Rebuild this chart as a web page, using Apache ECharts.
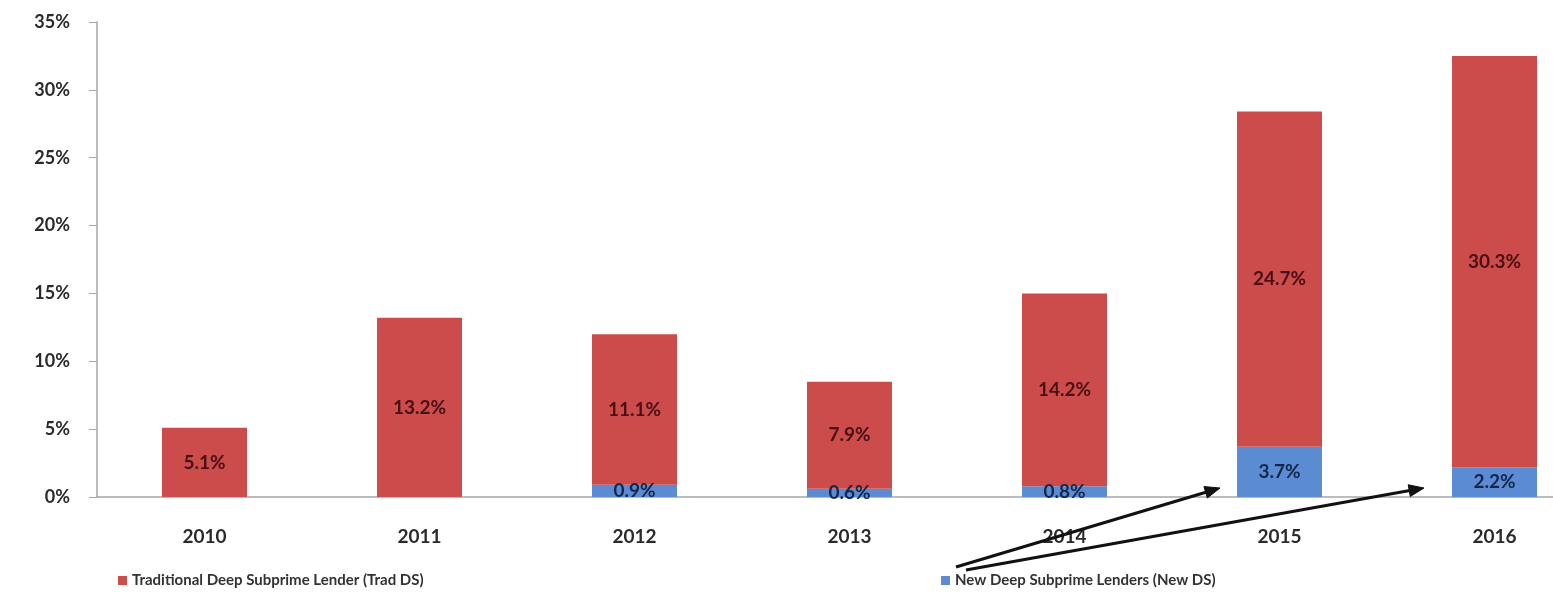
<!DOCTYPE html>
<html>
<head>
<meta charset="utf-8">
<script src="https://cdn.jsdelivr.net/npm/echarts@6/dist/echarts.min.js"></script>
<style>html,body{margin:0;padding:0;background:#fff;}#c{width:1553px;height:603px;}</style>
</head>
<body>
<div id="c"></div>
<script>
var categories = ['2010','2011','2012','2013','2014','2015','2016'];
var tradDS = [5.1, 13.2, 11.1, 7.9, 14.2, 24.7, 30.3];
var newDS = [0, 0, 0.9, 0.6, 0.8, 3.7, 2.2];
var yTicks = [0, 5, 10, 15, 20, 25, 30, 35];
var tradName = 'Traditional Deep Subprime Lender (Trad DS)';
var newName = 'New Deep Subprime Lenders (New DS)';

var FONT = 'Lato';
function arrow(x1, y1, x2, y2) {
  var dx = x2 - x1, dy = y2 - y1, len = Math.sqrt(dx*dx + dy*dy);
  var ux = dx/len, uy = dy/len, px = -uy, py = ux;
  var hl = 15, hw = 6;
  var bx = x2 - ux*hl, by = y2 - uy*hl;
  return [
    {type: 'line', silent: true, z: 100, shape: {x1: x1, y1: y1, x2: bx + ux*2, y2: by + uy*2}, style: {stroke: '#111', lineWidth: 3}},
    {type: 'polygon', silent: true, z: 101, shape: {points: [[x2, y2], [bx + px*hw, by + py*hw], [bx - px*hw, by - py*hw]]}, style: {fill: '#111', stroke: '#111', lineWidth: 1}}
  ];
}

var chart = echarts.init(document.getElementById('c'));
var labelFmt = function (p) { return p.value ? p.value.toFixed(1) + '%' : ''; };
chart.setOption({
  animation: false,
  textStyle: {fontFamily: FONT},
  grid: {left: 97, top: 22, right: -49, bottom: 106, containLabel: false, outerBoundsMode: 'none'},
  legend: [
    {data: [tradName], left: 113, top: 568, icon: 'rect', itemWidth: 9, itemHeight: 9, itemGap: 6,
     textStyle: {fontFamily: FONT, fontSize: 15, fontWeight: 'bold', color: '#333'}},
    {data: [newName], left: 936, top: 568, icon: 'rect', itemWidth: 9, itemHeight: 9, itemGap: 6,
     textStyle: {fontFamily: FONT, fontSize: 15, fontWeight: 'bold', color: '#333'}}
  ],
  xAxis: {
    type: 'category', data: categories,
    axisLine: {lineStyle: {color: '#a6a6a6', width: 1.5}},
    axisTick: {length: 8, lineStyle: {color: '#a6a6a6'}},
    axisLabel: {margin: 30, fontSize: 19, fontWeight: 'bold', color: '#2a2a2a', fontFamily: FONT}
  },
  yAxis: {
    type: 'value', min: 0, max: 35, interval: 5,
    splitLine: {show: false},
    axisLine: {show: true, lineStyle: {color: '#a6a6a6', width: 1.5}},
    axisTick: {show: true, length: 8, lineStyle: {color: '#a6a6a6'}},
    axisLabel: {margin: 27, fontSize: 18, fontWeight: 'bold', color: '#2a2a2a', fontFamily: FONT,
      formatter: function (v) { return yTicks.indexOf(v) >= 0 ? v + '%' : ''; }}
  },
  series: [
    {name: newName, type: 'bar', stack: 'a', data: newDS, barWidth: 85,
     itemStyle: {color: '#5b8bd3'},
     label: {show: true, position: 'inside', formatter: labelFmt, fontSize: 19, fontWeight: 'bold', color: '#12284a', fontFamily: FONT}},
    {name: tradName, type: 'bar', stack: 'a', data: tradDS, barWidth: 85,
     itemStyle: {color: '#cb4c4b'},
     label: {show: true, position: 'inside', formatter: labelFmt, fontSize: 19, fontWeight: 'bold', color: '#4a0f12', fontFamily: FONT}}
  ]
});
chart.setOption({graphic: arrow(956, 567, 1220, 488).concat(arrow(966, 570, 1424, 488))});
</script>
</body>
</html>
